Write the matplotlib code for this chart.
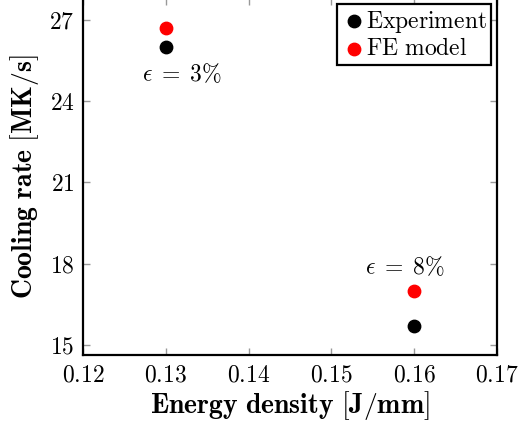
import matplotlib
matplotlib.use('Agg')
import matplotlib.pyplot as plt
from matplotlib.ticker import FuncFormatter

plt.rcParams['mathtext.fontset'] = 'cm'
plt.rcParams['font.family'] = 'serif'

# energy density [J/mm] and cooling rate [MK/s]
energy = [0.13, 0.16]
rate_exp = [26.0, 15.7]
rate_fe = [26.7, 17.0]
strain_labels = [r'$\epsilon\;=\;3\%$', r'$\epsilon\;=\;8\%$']
label_pos = [(0.132, 24.97), (0.1589, 17.88)]

fig = plt.figure(figsize=(5.19, 4.23), dpi=100)
ax = fig.add_axes([0.16, 0.1608, 0.7976, 0.8442])

ax.scatter(energy, rate_exp, s=80, color='black', label=r'$\mathrm{Experiment}$', zorder=3)
ax.scatter(energy, rate_fe, s=80, color='red', label=r'$\mathrm{FE\ model}$', zorder=3)

for txt, (x, y) in zip(strain_labels, label_pos):
    ax.text(x, y, txt, fontsize=17, ha='center', va='center')

ax.set_xlim(0.12, 0.17)
ax.set_ylim(14.63, 27.8)
ax.set_xticks([0.12, 0.13, 0.14, 0.15, 0.16, 0.17])
ax.set_yticks([15, 18, 21, 24, 27])
ax.xaxis.set_major_formatter(FuncFormatter(lambda v, p: r'$%.2f$' % v))
ax.yaxis.set_major_formatter(FuncFormatter(lambda v, p: r'$%d$' % v))
ax.tick_params(direction='in', length=5, width=1, color='#999999',
               labelsize=17, top=True, right=True, pad=6)
for sp in ax.spines.values():
    sp.set_linewidth(1.6)

ax.set_xlabel(r'$\mathbf{Energy\ density}\ [\mathbf{J/mm}]$', fontsize=20, labelpad=2)
ax.set_ylabel(r'$\mathbf{Cooling\ rate}\ [\mathbf{MK/s}]$', fontsize=20, labelpad=6)

leg = ax.legend(loc='upper right', fontsize=17, handletextpad=0.0, handlelength=1.0,
                borderpad=0.2, labelspacing=0.1, fancybox=False, edgecolor='black',
                framealpha=1, borderaxespad=0.25)
leg.get_frame().set_linewidth(1.6)

fig.savefig('out.png', dpi=100)
